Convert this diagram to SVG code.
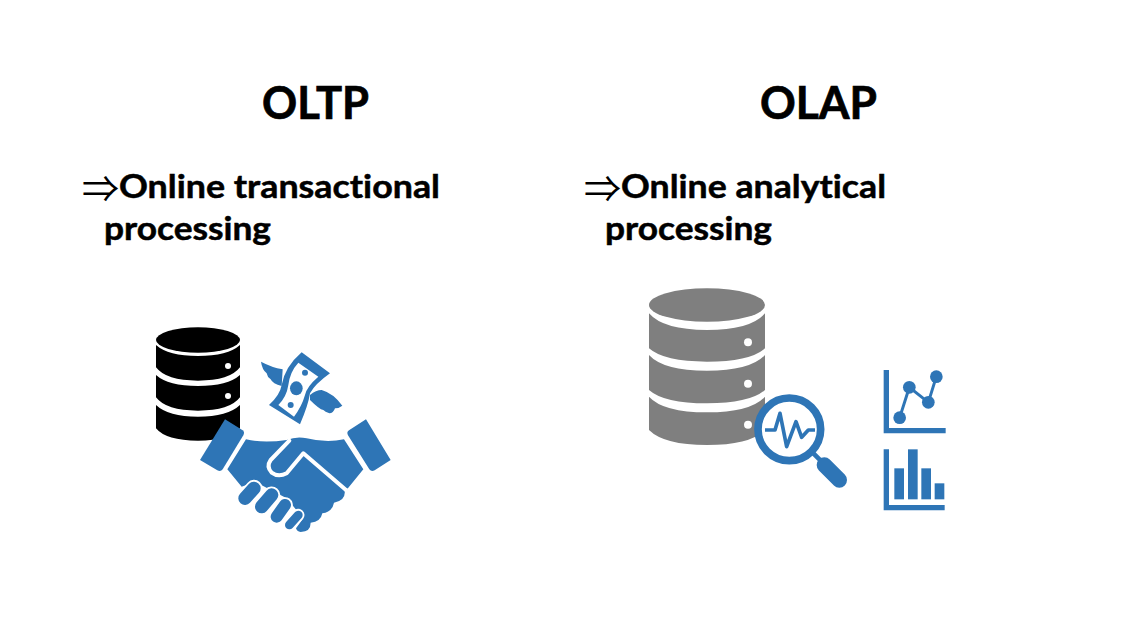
<svg xmlns="http://www.w3.org/2000/svg" width="1135" height="632" viewBox="0 0 1135 632">
<style>
text{font-family:Lato,"Open Sans","Liberation Sans",sans-serif;font-weight:700;fill:#000;stroke:#000;font-variant-ligatures:none}
.h{font-size:45px;stroke-width:.7px}
.b{font-size:33px;stroke-width:.5px}
.a{font-family:"Noto Sans CJK SC",sans-serif;font-weight:400;font-size:37px;stroke:none}
.blue{fill:#2E75B6}
.w{fill:#fff}
.halo{fill:none;stroke:#fff;stroke-linecap:round}
.fg{fill:none;stroke:#2E75B6;stroke-linecap:round}
</style>
<rect width="1135" height="632" fill="#fff"/>
<g id="oltp-text">
<text class="h" x="262" y="119" textLength="107" lengthAdjust="spacingAndGlyphs">OLTP</text>
<text class="a" x="82" y="203" textLength="37" lengthAdjust="spacingAndGlyphs">⇒</text>
<text class="b" x="119" y="198" textLength="321" lengthAdjust="spacingAndGlyphs">Online transactional</text>
<text class="b" x="104" y="240" textLength="167" lengthAdjust="spacingAndGlyphs">processing</text>
</g>
<g id="olap-text">
<text class="h" x="760" y="119" textLength="117" lengthAdjust="spacingAndGlyphs">OLAP</text>
<text class="a" x="584" y="203" textLength="37" lengthAdjust="spacingAndGlyphs">⇒</text>
<text class="b" x="621" y="198" textLength="265" lengthAdjust="spacingAndGlyphs">Online analytical</text>
<text class="b" x="605" y="240" textLength="167" lengthAdjust="spacingAndGlyphs">processing</text>
</g>
<g id="oltp-database" fill="#000" transform="translate(140 310) scale(.33333)">
<ellipse cx="174" cy="90" rx="126" ry="38"/>
<path d="M48 105Q85 138 174 138T300 105V172Q270 212 174 212T48 172Z"/>
<path d="M48 195Q85 228 174 228T300 195V262Q270 302 174 302T48 262Z"/>
<path d="M48 285Q85 320 174 320T300 285V355Q270 392 174 392T48 355Z"/>
<circle class="w" cx="264" cy="168" r="9"/>
<circle class="w" cx="264" cy="258" r="9"/>
</g>
<g id="oltp-handshake" class="blue" transform="translate(140 310) scale(.33333)">
<path d="M255 328L308 361Q315 366 310 376L248 478Q242 486 232 481L180 450Z"/>
<path d="M678 328L627 361Q619 366 624 376L688 478Q694 486 704 481L752 450Z"/>
<path d="M318 388Q370 400 440 390Q470 378 500 385Q560 400 612 388L670 478L625 533L614 542Q618 572 582 578Q577 606 547 610Q542 636 512 638Q512 665 482 666Q470 664 468 655L490 625L440 565L345 515L305 530L262 478Z"/>
<path class="halo" stroke-width="51" d="M315 565L342 535"/>
<path class="fg" stroke-width="40" d="M315 565L342 535"/>
<path class="halo" stroke-width="51" d="M365 590L395 555"/>
<path class="fg" stroke-width="40" d="M365 590L395 555"/>
<path class="halo" stroke-width="47" d="M410 620L435 585"/>
<path class="fg" stroke-width="36" d="M410 620L435 585"/>
<path class="halo" stroke-width="37" d="M448 645L475 615"/>
<path class="fg" stroke-width="26" d="M448 645L475 615"/>
<path fill="none" stroke="#fff" stroke-width="12" stroke-linejoin="round" stroke-linecap="round" d="M448 392L392 450Q378 470 395 488Q415 503 440 490L490 430L618 540"/>
</g>
<g id="oltp-money" class="blue" transform="translate(140 310) scale(.33333)">
<path d="M363 155Q395 172 428 178L425 228Q398 222 392 208Q382 202 380 190Q366 178 363 155Z"/>
<path d="M510 255Q528 240 545 240Q580 250 607 287Q595 296 585 295Q580 310 568 310Q555 306 550 300Q538 298 510 270Z"/>
<path d="M485 127L570 190Q525 222 510 250Q505 285 480 343L387 285Q420 255 425 225Q435 170 485 127Z"/>
<path class="w" d="M475 158L535 200Q500 230 495 255Q485 290 462 320L415 285Q440 260 445 225Q450 185 475 158Z"/>
<ellipse cx="469" cy="235" rx="19" ry="21"/>
<circle cx="495" cy="188" r="9"/>
<circle cx="452" cy="285" r="9"/>
</g>
<g id="olap-database" fill="#7F7F7F" transform="translate(640 280) scale(.33333)">
<ellipse cx="201" cy="75" rx="174" ry="50"/>
<path d="M27 100Q70 150 201 150T375 100V205Q330 245 201 245T27 205Z"/>
<path d="M27 225Q70 272 201 272T375 225V330Q330 370 201 370T27 330Z"/>
<path d="M27 350Q70 397 201 397T375 350V450Q330 495 201 495T27 450Z"/>
<circle class="w" cx="324" cy="187" r="12"/>
<circle class="w" cx="324" cy="311" r="12"/>
<circle class="w" cx="324" cy="434" r="12"/>
</g>
<g id="olap-magnifier" transform="translate(640 280) scale(.33333)">
<circle cx="448" cy="448" r="94" fill="#fff" stroke="#2E75B6" stroke-width="23"/>
<path fill="none" stroke="#2E75B6" stroke-width="11" stroke-linejoin="round" d="M375 450H405L420 400L440 500L468 425L485 472L505 450H525"/>
<path fill="none" stroke="#2E75B6" stroke-width="14" d="M518 518L548 548"/>
<path fill="none" stroke="#2E75B6" stroke-width="46" stroke-linecap="round" d="M553 555L598 600"/>
</g>
<g id="olap-line-chart" class="blue" transform="translate(640 280) scale(.33333)">
<path d="M731 270H747V444H917V460H731Z"/>
<path fill="none" stroke="#2E75B6" stroke-width="9" d="M779 413L808 322L865 367L889 290"/>
<circle cx="779" cy="413" r="19"/>
<circle cx="808" cy="322" r="19"/>
<circle cx="865" cy="367" r="19"/>
<circle cx="889" cy="290" r="19"/>
</g>
<g id="olap-bar-chart" class="blue" transform="translate(640 280) scale(.33333)">
<path d="M731 508H747V675H914V691H731Z"/>
<rect x="763" y="565" width="29" height="93"/>
<rect x="804" y="508" width="29" height="150"/>
<rect x="844" y="565" width="29" height="93"/>
<rect x="884" y="610" width="29" height="48"/>
</g>
<g id="connectors"/>
</svg>
